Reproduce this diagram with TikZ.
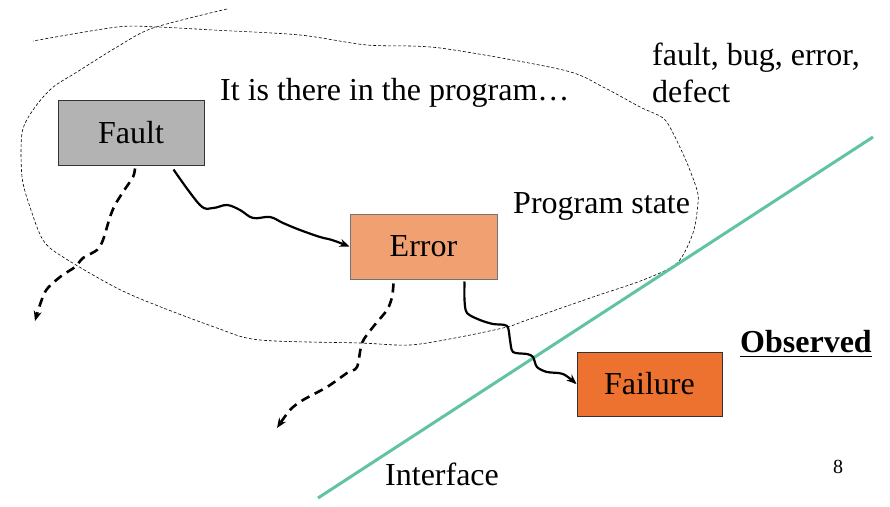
\documentclass[tikz,border=0pt]{standalone}
\usepackage{fontspec}
\setmainfont{Liberation Serif}
\usetikzlibrary{arrows.meta,calc}
\definecolor{faultgray}{RGB}{179,179,179}
\definecolor{errorfill}{RGB}{241,161,113}
\definecolor{failfill}{RGB}{237,114,48}
\definecolor{ifacegreen}{RGB}{96,196,160}
\tikzset{
  box/.style={draw, line width=1pt, minimum width=146pt, minimum height=65pt, inner sep=0pt,
    font=\fontsize{32}{37}\selectfont},
  lbl/.style={inner sep=0pt, anchor=base west, font=\fontsize{32}{37}\selectfont, align=left},
  wavy/.style={line width=2.2pt, -{Stealth[length=10pt,width=8pt]}, rounded corners=0pt},
  lost/.style={line width=2.6pt, dash pattern=on 9pt off 6pt, -{Stealth[length=10pt,width=8pt]}},
  region/.style={line width=0.6pt, dash pattern=on 3pt off 2pt},
}
\begin{document}
\begin{tikzpicture}[x=1pt,y=-1pt]
\useasboundingbox (0,0) rectangle (890,506);

% program state region
\draw[region] plot[smooth, tension=0.5] coordinates {
 (227,9) (153,28) (117,47) (77,72) (52,88) (33,110) (22,133) (22,177) (30,207) (43,240) (63,257)
 (127,293) (217,328) (260,340) (360,343) (410,345) (460,337) (507,327) (527,320) (593,297)
 (643,280) (677,263) (693,233) (698,203) (697,190) (687,163) (673,133) (663,118) (640,107)
 (603,87) (563,70) (440,48) (367,45) (300,35) (213,30) (157,27) (117,27) (33,41)};

% interface line
\coordinate (ifA) at (318,498);
\coordinate (ifB) at (873,137);
\draw[ifacegreen, line width=3pt] (ifA) -- (ifB);

% boxes
\node[box, fill=faultgray, draw=black!80] (fault) at (131,132.5) {\raisebox{-2pt}{Fault}};
\node[box, fill=errorfill, draw=black!55, minimum width=147pt] (error) at (423.5,246.5) {Error};
\node[box, fill=failfill, draw=black!80, minimum width=145pt, minimum height=64pt] (failure) at (649.5,384) {\raisebox{-2pt}{Failure}};

% texts
\node[lbl] (there) at (220,100) {It is there in the program…};
\node[lbl] (syn1) at (652,65) {fault, bug, error,};
\node[lbl] (syn2) at (652,102) {defect};
\node[lbl] (pstate) at (513,213) {Program state};
\node[lbl] (iface) at (385,485) {Interface};
\node[lbl, font=\fontsize{32}{37}\selectfont\bfseries] (obs) at (740,352) {Observed};
\draw[line width=1.8pt] ($(obs.base west)+(0,4.5)$) -- ($(obs.base east)+(0,4.5)$);
\node[inner sep=0pt, anchor=base, font=\fontsize{20}{24}\selectfont] (pagenum) at (838,473) {8};

% propagation fault -> error
\draw[wavy] plot[smooth, tension=0.6] coordinates {
 ($(fault.south east)+(-31,4)$) (200,205) (213,208) (227,205) (240,210) (253,218) (270,217)
 (283,223) (300,230) (320,237) (332,240) (error.west)};

% propagation error -> failure
\draw[wavy] plot[smooth, tension=0.5] coordinates {
 ($(error.south east)+(-33,2)$) (464.5,300) (467,313) (480,320) (493,324) (507,326) (510,340)
 (513,352) (527,354) (533,357) (537,367) (547,372) (563,374) (failure.west)};

% masked faults / errors
\coordinate (lostF) at (35,321);
\coordinate (lostE) at (277,428);
\draw[lost] plot[smooth, tension=0.5] coordinates {
 ($(fault.south)+(4,3)$) (133,177) (123,192) (115,205) (110,217) (103,240) (97,250) (83,258)
 (75,267) (60,277) (45,292) (lostF)};
\draw[lost] plot[smooth, tension=0.5] coordinates {
 ($(error.south)+(-30,4)$) (392,297) (387,310) (373,327) (362,343) (357,367) (347,373)
 (327,387) (303,400) (290,410) (lostE)};
\end{tikzpicture}
\end{document}
